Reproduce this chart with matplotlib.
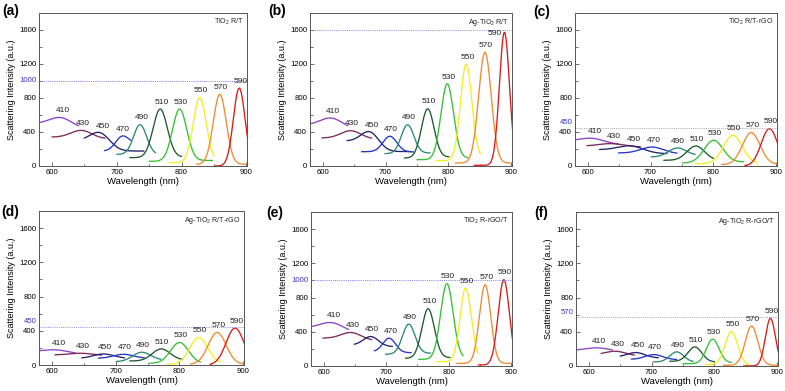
import math
import numpy as np
import matplotlib
matplotlib.use("Agg")
import matplotlib.pyplot as plt
import matplotlib.transforms as mtransforms
from matplotlib.ticker import MultipleLocator

plt.rcParams['font.family'] = ['Liberation Sans', 'DejaVu Sans']
plt.rcParams['mathtext.fontset'] = 'custom'
plt.rcParams['mathtext.rm'] = 'Liberation Sans'
plt.rcParams['mathtext.it'] = 'Liberation Sans'

# ---------------- data ----------------
peak_labels = ["410", "430", "450", "470", "490", "510", "530", "550", "570", "590"]
curve_colors = ["#9040C8", "#802858", "#22226E", "#2434C4", "#2A8A72",
                "#1E5A2C", "#34C034", "#F2F020", "#F08A30", "#E01818"]

panel_letters = ["(a)", "(b)", "(c)", "(d)", "(e)", "(f)"]
panel_titles = [r"TiO$_2$ R/T", r"Ag-TiO$_2$ R/T", r"TiO$_2$ R/T-rGO",
                r"Ag-TiO$_2$ R/T-rGO", r"TiO$_2$ R-rGO/T", r"Ag-TiO$_2$ R-rGO/T"]
ref_levels = [1000, 1600, 450, 450, 1000, 570]

# peak centre wavelength (nm)
centers_a = [615, 646, 676, 707, 736, 767, 797, 828, 859, 889]
centers_b = [615, 645, 677, 707, 735, 767, 798, 828, 858, 889]
centers_c = [609, 639, 671, 703, 742, 772, 800, 831, 860, 889]
centers_d = [609, 647, 681, 712, 740, 771, 800, 830, 859, 887]
centers_e = [615, 645, 676, 705, 736, 767, 797, 827, 858, 888]
centers_f = [615, 644, 676, 704, 740, 769, 797, 827, 859, 889]

# peak intensity (a.u.)
heights_a = [568, 419, 388, 349, 486, 670, 670, 804, 843, 917]
heights_b = [563, 415, 398, 350, 485, 673, 966, 1201, 1338, 1573]
heights_c = [325, 263, 235, 223, 212, 235, 302, 361, 392, 439]
heights_d = [176, 137, 129, 125, 149, 188, 263, 321, 380, 431]
heights_e = [505, 391, 344, 325, 489, 669, 962, 911, 950, 1009]
heights_f = [212, 172, 157, 133, 165, 223, 314, 400, 466, 557]

# wavelength window of each spectrum (nm)
start_a = [570, 600, 650, 681, 700, 720, 750, 781, 823, 851]
end_a = [641, 682, 742, 722, 760, 800, 848, 850, 900, 905]
start_b = [570, 599, 639, 662, 699, 730, 750, 780, 811, 841]
end_b = [640, 678, 740, 745, 771, 801, 831, 851, 900, 905]
start_c = [570, 599, 619, 649, 701, 721, 751, 771, 813, 850]
end_c = [649, 684, 726, 742, 771, 800, 848, 869, 900, 905]
start_d = [570, 605, 647, 673, 701, 722, 753, 781, 817, 848]
end_d = [637, 678, 714, 745, 771, 805, 833, 864, 900, 905]
start_e = [570, 599, 649, 681, 699, 731, 752, 781, 813, 847]
end_e = [640, 677, 710, 740, 771, 802, 823, 847, 900, 905]
start_f = [570, 620, 650, 668, 703, 729, 750, 785, 814, 846]
end_f = [638, 673, 711, 740, 766, 800, 827, 856, 900, 905]

# baseline level on the left / right side of each peak (a.u.)
baseL_a = [495, 340, 300, 176, 137, 98, 55, 39, 20, 0]
baseR_a = [430, 320, 176, 265, 137, 106, 65, 50, 20, 0]
baseL_b = [481, 329, 295, 168, 145, 94, 74, 63, 35, 8]
baseR_b = [430, 317, 170, 165, 153, 106, 94, 100, 35, 0]
baseL_c = [294, 235, 192, 153, 106, 67, 35, 27, 16, 0]
baseR_c = [251, 223, 145, 145, 125, 67, 47, 27, 20, 0]
baseL_d = [157, 118, 78, 78, 39, 47, 20, 8, 8, 0]
baseR_d = [125, 110, 78, 78, 59, 59, 20, 20, 8, 0]
baseL_e = [450, 325, 246, 168, 137, 90, 78, 51, 31, 12]
baseR_e = [390, 297, 227, 156, 149, 98, 90, 70, 31, 0]
baseL_f = [184, 133, 106, 78, 47, 55, 27, 16, 8, 0]
baseR_f = [172, 118, 94, 74, 47, 47, 39, 8, 8, 0]

# peak width (nm, gaussian sigma)
width_a = [18, 16, 15, 10, 10, 11, 11, 10, 10, 9]
width_b = [18, 16, 14, 11, 10, 10, 10, 9, 10, 8]
width_c = [20, 20, 20, 18, 14, 14, 15, 15, 14, 13]
width_d = [20, 18, 16, 16, 14, 14, 14, 14, 14, 14]
width_e = [18, 16, 12, 10, 10, 10, 10, 9, 9, 9]
width_f = [18, 16, 14, 14, 11, 11, 10, 10, 10, 8]

panels = [
    (centers_a, heights_a, start_a, end_a, baseL_a, baseR_a, width_a),
    (centers_b, heights_b, start_b, end_b, baseL_b, baseR_b, width_b),
    (centers_c, heights_c, start_c, end_c, baseL_c, baseR_c, width_c),
    (centers_d, heights_d, start_d, end_d, baseL_d, baseR_d, width_d),
    (centers_e, heights_e, start_e, end_e, baseL_e, baseR_e, width_e),
    (centers_f, heights_f, start_f, end_f, baseL_f, baseR_f, width_f),
]


def spectrum(c, h, x0, x1, bl, br, w):
    x = np.linspace(x0, x1, 200)
    z = (x - c) / w
    step = np.array([0.5 * (1 + math.erf(v / math.sqrt(2))) for v in z])
    base = bl + (br - bl) * step
    amp = h - 0.5 * (bl + br)
    return x, base + amp * np.exp(-0.5 * z ** 2)


# ---------------- layout ----------------
W, H = 785, 391
fig = plt.figure(figsize=(W / 100, H / 100), dpi=100)

boxes = [(39, 13, 247, 166), (310, 13, 512, 166), (575, 13, 777, 166),
         (39, 211, 244, 365), (311, 212, 512, 366), (576, 212, 778, 366)]
letter_pos = [(2, 11), (268, 11), (533, 12), (1, 212), (266, 213), (534, 213)]

ref_line_colors = ["#7C7CE6", "#8C8CE6", "#A8A8B8", "#8C8CE6", "#7C7CE6", "#A0A0A8"]
frame_color = "#555555"
main_ticks = [0, 400, 800, 1200, 1600]

for i, (cen, hts, xs, xe, bL, bR, wd) in enumerate(panels):
    l, t, r, b = boxes[i]
    ax = fig.add_axes([l / W, 1 - b / H, (r - l) / W, (b - t) / H])
    ax.set_xlim(580, 901)
    ax.set_ylim(0, 1800)

    for k in range(len(peak_labels)):
        x, y = spectrum(cen[k], hts[k], xs[k], xe[k], bL[k], bR[k], wd[k])
        ax.plot(x, y, color=curve_colors[k], lw=0.95, solid_capstyle='round')
        if hts[k] + 80 > 1620:
            lx, ly, ha = cen[k] - 4, hts[k] - 10, 'right'
        else:
            lx, ly, ha = cen[k] + 2, hts[k] + 80, 'center'
        ax.text(lx, ly, peak_labels[k], fontsize=6, ha=ha, va='center',
                color='#222222')

    ax.axhline(ref_levels[i], color=ref_line_colors[i], lw=0.7, ls=(0, (1, 1.2)))

    ax.xaxis.set_major_locator(MultipleLocator(100))
    ax.xaxis.set_minor_locator(MultipleLocator(50))
    ax.set_yticks(main_ticks)
    ax.yaxis.set_minor_locator(MultipleLocator(200))
    ax.tick_params(which='both', direction='in', labelsize=5.6, pad=2,
                   color=frame_color, width=0.6)
    ax.tick_params(which='major', length=3)
    ax.tick_params(which='minor', length=1.8)
    for s in ax.spines.values():
        s.set_color(frame_color)
        s.set_linewidth(0.7)

    if ref_levels[i] not in main_ticks:
        off = mtransforms.ScaledTranslation(0, 3.5 / 72 if ref_levels[i] < 700 else 0,
                                            fig.dpi_scale_trans)
        trans = ax.get_yaxis_transform() + off
        ax.text(-0.012, ref_levels[i], str(ref_levels[i]), transform=trans,
                ha='right', va='center', fontsize=5.6, color="#3838C0")

    ax.set_xlabel("Wavelength (nm)", fontsize=6.8, labelpad=1)
    ax.set_ylabel("Scattering Intensity (a.u.)", fontsize=6.5, labelpad=2)
    ax.text(0.985, 0.975, panel_titles[i], transform=ax.transAxes,
            ha='right', va='top', fontsize=5.1, color='#222222')

    px, py = letter_pos[i]
    fig.text(px / W, 1 - py / H, panel_letters[i], fontsize=10,
             fontweight='bold', ha='left', va='center')

fig.savefig("out.png", dpi=100)
